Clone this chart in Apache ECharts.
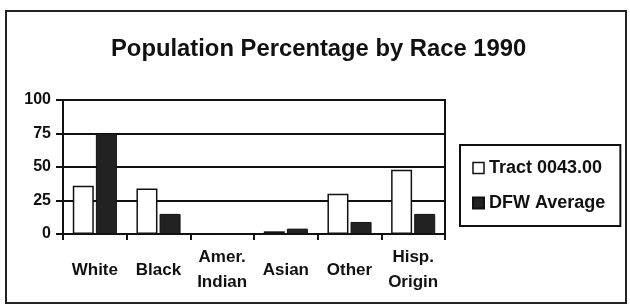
<!DOCTYPE html>
<html>
<head>
<meta charset="utf-8">
<script src="https://cdn.jsdelivr.net/npm/echarts@6/dist/echarts.min.js"></script>
<style>
  html, body { margin: 0; padding: 0; background: #fff; }
  #chart { width: 630px; height: 305px; }
</style>
</head>
<body>
<div id="chart"></div>
<script>
const categories = ["White", "Black", "Amer.\nIndian", "Asian", "Other", "Hisp.\nOrigin"];
const tractValues = [36, 34, 0.3, 2, 30, 48];
const dfwValues = [75, 15, 0.5, 4, 9, 15];
const yTicks = [0, 25, 50, 75, 100];

const font = "Liberation Sans, Arial, sans-serif";
const ink = "#111";

const chart = echarts.init(document.getElementById("chart"));

const option = {
    animation: false,
    backgroundColor: "#fff",
    title: {
        text: "Population Percentage by Race 1990",
        left: 106,
        top: 32,
        textStyle: { fontFamily: font, fontSize: 23.8, fontWeight: "bold", color: ink },
    },
    legend: {
        orient: "vertical",
        left: 460,
        top: 145,
        padding: [14, 15, 14, 12],
        itemGap: 17,
        itemWidth: 11,
        itemHeight: 11,
        borderColor: ink,
        borderWidth: 2,
        textStyle: { fontFamily: font, fontSize: 18, fontWeight: "bold", color: ink },
        data: [
            { name: "Tract 0043.00", icon: "rect", itemStyle: { color: "#fff", borderColor: ink, borderWidth: 1.5 } },
            { name: "DFW Average", icon: "rect", itemStyle: { color: "#222" } },
        ],
    },
    grid: {
        left: 63,
        right: 185,
        top: 100,
        bottom: 71,
        show: true,
        backgroundColor: "#fff",
        borderColor: ink,
        borderWidth: 2,
    },
    xAxis: {
        type: "category",
        data: categories,
        axisLine: { lineStyle: { color: ink, width: 2 } },
        axisTick: { show: true, length: 6, lineStyle: { color: ink, width: 2 } },
        axisLabel: {
            margin: 36,
            verticalAlign: "middle",
            lineHeight: 25,
            fontFamily: font,
            fontSize: 17,
            fontWeight: "bold",
            color: ink,
            interval: 0,
        },
    },
    yAxis: {
        type: "value",
        min: yTicks[0],
        max: yTicks[yTicks.length - 1],
        interval: 25,
        axisLine: { show: true, lineStyle: { color: ink, width: 2 } },
        axisTick: { show: true, length: 7, lineStyle: { color: ink, width: 2 } },
        splitLine: { lineStyle: { color: ink, width: 2 } },
        axisLabel: { margin: 12, fontFamily: font, fontSize: 16, fontWeight: "bold", color: ink },
    },
    series: [
        {
            name: "Tract 0043.00",
            type: "bar",
            data: tractValues,
            barWidth: 21,
            barGap: "10%",
            itemStyle: { color: "#fff", borderColor: ink, borderWidth: 1.5 },
        },
        {
            name: "DFW Average",
            type: "bar",
            data: dfwValues,
            barWidth: 21,
            itemStyle: { color: "#222", borderColor: ink, borderWidth: 1 },
        },
    ],
    graphic: [
        {
            type: "rect",
            shape: { x: 6, y: 11, width: 620, height: 292 },
            style: { fill: null, stroke: "#222", lineWidth: 2 },
            silent: true,
        },
    ],
};

chart.setOption(option);
</script>
</body>
</html>
